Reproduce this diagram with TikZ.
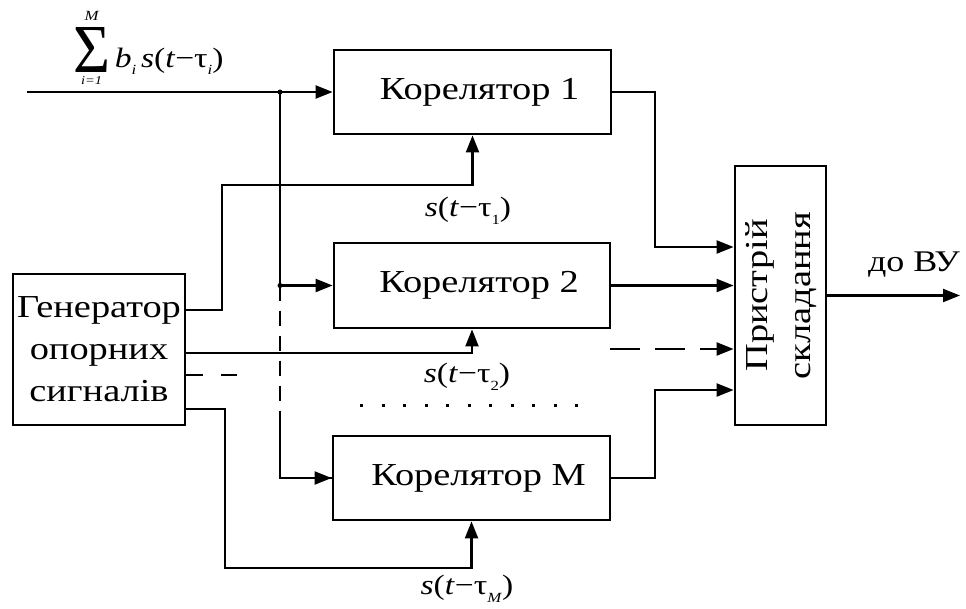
\documentclass[tikz,border=0pt]{standalone}
\usepackage{fontspec}
\setmainfont{Liberation Serif}[FakeStretch=1.2]
\usetikzlibrary{arrows.meta}
\newcommand\lowidx[1]{\raisebox{-0.28em}{\fontsize{14}{14}\selectfont #1}}
\newcommand\bigsigma{\raisebox{-5pt}{\resizebox{37pt}{45pt}{Σ}}%
  \llap{\makebox[37pt]{\raisebox{47pt}{\fontsize{14}{14}\selectfont\itshape M}}}%
  \llap{\makebox[37pt]{\raisebox{-17pt}{\fontsize{12}{12}\selectfont\itshape i=1}}}}
\begin{document}
\begin{tikzpicture}[x=1pt,y=-1pt,
  blk/.style={draw, line width=2.8pt, inner sep=0pt, font=\fontsize{32}{42}\selectfont},
  wire/.style={line width=2.2pt},
  arr/.style={wire, -{Triangle[length=17pt,width=13pt]}},
  lbl/.style={font=\fontsize{28}{30}\selectfont, inner sep=0pt},
  dot/.style={circle, fill, inner sep=0pt, minimum size=5pt}
]
\useasboundingbox (0,0) rectangle (966,608);
% blocks
\node[blk, minimum width=277pt, minimum height=84pt] (c1) at (472.5,92) {\hspace{14pt}Корелятор 1};
\node[blk, minimum width=276pt, minimum height=85pt] (c2) at (472,285.5) {\hspace{14pt}Корелятор 2};
\node[blk, minimum width=277pt, minimum height=84pt] (cM) at (471.5,478) {\hspace{14pt}Корелятор М};
\node[blk, minimum width=172pt, minimum height=151pt, align=center] (gen) at (99,349.5) {Генератор\\опорних\\сигналів};
\node[blk, minimum width=91pt, minimum height=259pt] (add) at (780.5,295.5)
  {\rotatebox{90}{\begin{tabular}{@{}c@{}}Пристрій\\[1pt]складання\end{tabular}}};
% labels
\node[lbl, anchor=base west] (sum) at (73,67) {\bigsigma\,\textit{b}\lowidx{\textit{i}}\,\textit{s}(\textit{t}−τ\lowidx{\textit{i}})};
\node[lbl] (l1) at (468,211) {\textit{s}(\textit{t}−τ\lowidx{1})};
\node[lbl] (l2) at (467,377) {\textit{s}(\textit{t}−τ\lowidx{2})};
\node[lbl] (lM) at (467,589) {\textit{s}(\textit{t}−τ\lowidx{\textit{M}})};
\node[font=\fontsize{30}{30}\selectfont, inner sep=0pt] (out) at (914,265) {до ВУ};
% coordinates
\coordinate (in) at (27,92);
\coordinate (j1) at (280,92);
\coordinate (j2) at (280,285.5);
\coordinate (jd) at (280,413);
\coordinate (end) at (960,295.5);
\coordinate (dg) at (237,375);
\coordinate (dc) at (610,349);
\coordinate (p1) at (360,405);
\coordinate (p2) at (580,405);
% input distribution
\draw[arr] (in) -- (c1.west);
\draw[wire] (j1) -- (j2);
\draw[arr] (j2) -- (c2.west);
\draw[wire, dash pattern=on 15pt off 10pt] (j2) -- (jd);
\draw[wire] (jd) |- (cM.west);
\draw[arr] (jd |- cM.west) -- (cM.west);
\node[dot] (d1) at (j1) {};
\node[dot] (d2) at (j2) {};
% generator outputs
\draw[arr] (gen.east |- 0,310) -| (222,185) -| (c1.south);
\draw[arr] (gen.east |- 0,353) -| (c2.south);
\draw[wire, dash pattern=on 17pt off 18pt] (gen.east |- dg) -- (dg);
\draw[arr] (gen.east |- 0,409) -| (225,568) -| (cM.south);
% correlator outputs
\draw[arr] (c1.east) -| (655,247) -- (add.west |- 0,247);
\draw[arr] (c2.east) -- (add.west |- c2.east);
\draw[wire, dash pattern=on 30pt off 15pt] (dc) -- ([xshift=-17pt]add.west |- dc);
\draw[arr] ([xshift=-30pt]add.west |- dc) -- (add.west |- dc);
\draw[arr] (cM.east) -| (655,390) -- (add.west |- 0,390);
\draw[arr] (add.east) -- (end);
% dotted
\draw[line width=3pt, dash pattern=on 3pt off 18.5pt] (p1) -- (p2);
\end{tikzpicture}
\end{document}
